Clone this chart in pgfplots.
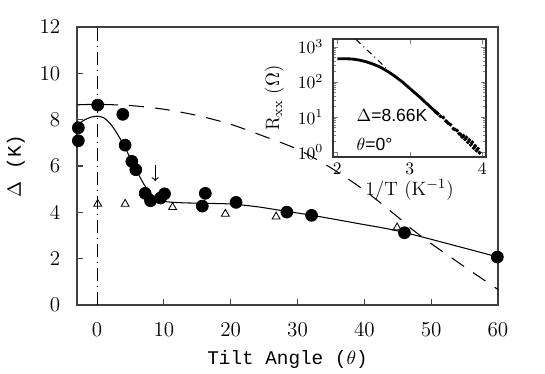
\documentclass[border=0pt]{standalone}
\usepackage{pgfplots}
\pgfplotsset{compat=1.18}
\usepackage{fontspec}
\newfontfamily\labelfont{Liberation Mono}
\newfontfamily\notefont{Liberation Sans}
\begin{document}
\begin{tikzpicture}
\def\px{0.02cm}
% main panel: gap vs tilt angle
\begin{axis}[
name=main,
scale only axis,
width=8.42cm, height=5.56cm,
xmin=-3, xmax=60, ymin=0, ymax=12,
xtick={0,10,...,60}, ytick={0,2,...,12},
tick align=inside, xtick pos=bottom, ytick pos=left,
major tick length=0.12cm,
axis line style={line width=0.8pt, black!75},
tick style={black!75, line width=0.6pt},
tick label style={font=\fontsize{12}{14}\selectfont},
xticklabel style={yshift=-6.5pt},
yticklabel style={xshift=-6pt},
xlabel={\labelfont Tilt Angle ($\theta$)},
ylabel={\labelfont $\Delta$ (K)},
label style={font=\fontsize{11}{13}\selectfont},
xlabel style={yshift=-1pt},
ylabel style={yshift=1.5pt},
]
% theta = 0 marker line
\addplot[black, line width=0.6pt, dash pattern=on 0.26cm off 0.1cm on 0.02cm off 0.1cm]
coordinates {(0,0) (0,12)};
% dashed model curve
\addplot[black, line width=0.6pt, dash pattern=on 0.3cm off 0.22cm, smooth]
coordinates {(-3,8.64) (0,8.66) (5,8.61) (10,8.45) (15,8.18) (20,7.8) (25,7.28)
(30,6.72) (35,5.92) (40,4.95) (45,3.8) (47,3.3) (50,2.65) (55,1.65) (60,0.67)};
% solid guide line
\addplot[black, line width=0.6pt, smooth, tension=0.5]
coordinates {(-3,7.75) (-2,7.97) (-1,8.1) (0,8.15) (1,8.08) (2,7.82) (3,7.4) (4,6.9)
(5,6.32) (6,5.75) (7,5.22) (8,4.82) (9,4.58) (10,4.48) (11,4.44) (13,4.41) (16,4.39)
(20,4.36) (24,4.24) (28.4,4.04) (32,3.88) (39,3.52) (46,3.13) (60,2.07)};
% filled circles
\addplot[only marks, mark=*, mark size=3.4pt, black]
coordinates {(-2.8,7.65) (-2.8,7.09) (0.1,8.63) (3.85,8.23) (4.2,6.9) (5.2,6.2)
(5.8,5.84) (7.2,4.82) (8.0,4.5) (9.5,4.62) (10.1,4.8) (15.75,4.27) (16.2,4.82)
(20.8,4.43) (28.4,4.01) (32.1,3.87) (46.0,3.12) (59.9,2.07)};
% open triangles
\addplot[only marks, mark=triangle, mark size=2.6pt, black, line width=0.5pt]
coordinates {(0.1,4.36) (4.2,4.36) (11.3,4.22) (19.2,3.93) (26.8,3.81) (44.9,3.34)};
% arrow
\draw[->, line width=0.6pt] (axis cs:8.7,6.05) -- (axis cs:8.7,5.35);
\end{axis}
% inset: Arrhenius plot
\begin{axis}[
at={(main.north east)}, anchor=north east,
xshift=-0.24cm, yshift=-0.24cm,
scale only axis,
width=3.06cm, height=2.36cm,
xmin=1.94, xmax=4.05,
ymode=log, ymin=0.72, ymax=1660,
xtick={2,3,4}, ytick={1,10,100,1000},
tick align=inside,
major tick length=0.1cm, minor tick length=0.06cm,
axis line style={line width=0.7pt, black!80},
tick label style={font=\fontsize{10}{12}\selectfont},
yticklabel style={xshift=-2pt},
xlabel={1/T (K$^{-1}$)},
ylabel={R$_{\mathrm{xx}}$ ($\Omega$)},
label style={font=\fontsize{11}{13}\selectfont},
xlabel style={yshift=4pt},
ylabel style={yshift=1pt},
]
\addplot[black, line width=1.6pt, smooth]
coordinates {(2.00,457) (2.05,457) (2.10,457) (2.15,452) (2.20,447) (2.25,432)
(2.30,417) (2.35,394) (2.40,372) (2.45,343) (2.50,316) (2.55,285) (2.60,257)
(2.65,224) (2.70,195) (2.75,166) (2.80,141) (2.85,117) (2.90,98) (2.95,79.4)
(3.00,64.6) (3.05,52.5) (3.10,42.7) (3.15,34.7) (3.20,27.5) (3.25,22.4) (3.30,17.8)
(3.35,14.5) (3.40,11.5)};
\addplot[only marks, mark=*, mark size=0.9pt, black]
coordinates {(3.35,14.0) (3.38,12.6) (3.42,10.5) (3.46,9.6) (3.5,7.6) (3.53,6.6)
(3.56,6.0) (3.6,4.6) (3.62,4.4) (3.65,4.1) (3.68,3.3) (3.7,3.2) (3.72,2.7)
(3.74,2.9) (3.76,2.3) (3.78,2.6) (3.8,1.9) (3.82,2.2) (3.84,1.6) (3.86,1.9)
(3.88,1.3) (3.9,1.5) (3.92,1.1) (3.94,1.25) (3.96,0.95)};
\addplot[black, line width=0.6pt, dash pattern=on 0.12cm off 0.08cm on 0.02cm off 0.08cm]
coordinates {(2.26,1585) (2.68,240)};
\node[anchor=west, font=\notefont\fontsize{10}{12}\selectfont] at (axis cs:2.18,11) {$\Delta$=8.66K};
\node[anchor=west, font=\notefont\fontsize{10}{12}\selectfont] at (axis cs:2.18,1.6) {$\theta$=0\textdegree};
\end{axis}
\path ([xshift=-77*\px, yshift=-65*\px]main.south west) rectangle ([xshift=47*\px, yshift=27*\px]main.north east);
\end{tikzpicture}
\end{document}
